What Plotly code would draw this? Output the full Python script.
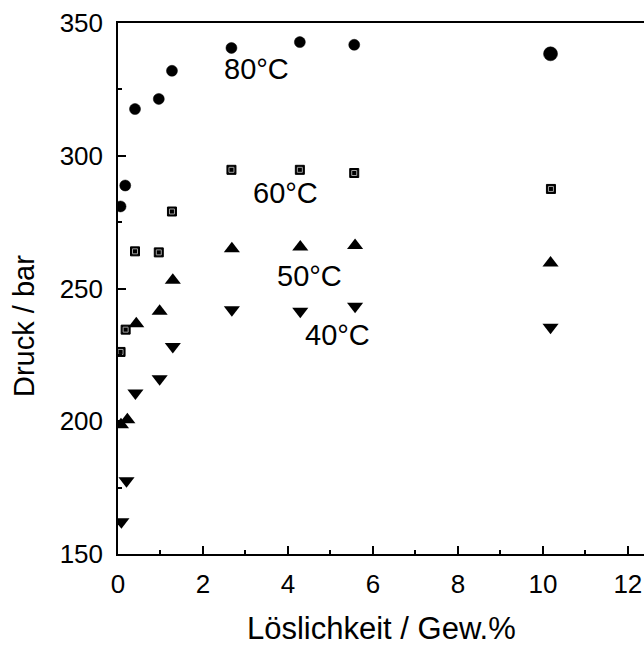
import plotly.graph_objects as go

# 80°C (circles)
x80 = [0.06, 0.17, 0.40, 0.96, 1.27, 2.67, 4.28, 5.56, 10.18]
y80 = [280.9, 288.8, 317.6, 321.4, 332.0, 340.6, 342.8, 341.8, 338.4]
s80 = [11, 11, 11, 11, 11, 11, 11, 11, 14]
# 60°C (squares)
x60 = [0.06, 0.18, 0.40, 0.96, 1.27, 2.67, 4.28, 5.56, 10.19]
y60 = [226.1, 234.5, 264.0, 263.6, 279.0, 294.7, 294.7, 293.5, 287.5]
# 50°C (triangle up)
x50 = [0.07, 0.22, 0.43, 0.98, 1.29, 2.68, 4.29, 5.58, 10.18]
y50 = [198.7, 200.6, 236.7, 241.4, 253.1, 265.0, 265.6, 266.2, 259.6]
# 40°C (triangle down)
x40 = [0.08, 0.20, 0.41, 0.98, 1.29, 2.68, 4.29, 5.58, 10.18]
y40 = [162.1, 177.6, 210.6, 216.0, 228.2, 242.0, 241.4, 243.3, 235.4]

labels = ["80°C", "60°C", "50°C", "40°C"]
label_x = [3.27, 3.95, 4.51, 5.17]
label_y = [332.6, 286.1, 254.8, 232.6]

x_title = "Löslichkeit / Gew.%"
y_title = "Druck / bar"

FONT = "Arial, 'Liberation Sans', sans-serif"

fig = go.Figure()
fig.add_trace(go.Scatter(x=x80, y=y80, mode="markers",
                         marker=dict(symbol="circle", size=s80, color="#000000", opacity=1,
                                     line=dict(color="#000000", width=0.5)),
                         showlegend=False))
fig.add_trace(go.Scatter(x=x60, y=y60, mode="markers",
                         marker=dict(symbol="square", size=9, color="#000000", opacity=1,
                                     line=dict(color="#000000", width=1)),
                         showlegend=False))
fig.add_trace(go.Scatter(x=x60, y=y60, mode="markers",
                         marker=dict(symbol="square-open", size=5, color="#a0a0a0",
                                     line=dict(width=1)),
                         showlegend=False))
fig.add_trace(go.Scatter(x=x50, y=y50, mode="markers",
                         marker=dict(symbol="triangle-up", size=14, color="#000000"),
                         showlegend=False))
fig.add_trace(go.Scatter(x=x40, y=y40, mode="markers",
                         marker=dict(symbol="triangle-down", size=14, color="#000000"),
                         showlegend=False))

for t, lx, ly in zip(labels, label_x, label_y):
    fig.add_annotation(x=lx, y=ly, text=t, showarrow=False,
                       font=dict(family=FONT, size=29, color="black"),
                       xanchor="center", yanchor="middle")

fig.add_annotation(xref="paper", yref="paper", x=0.5, y=-0.14, text=x_title,
                   showarrow=False, xanchor="center", yanchor="middle",
                   font=dict(family=FONT, size=31, color="black"))
fig.add_annotation(xref="paper", yref="paper", x=-0.18, y=0.43, text=y_title,
                   showarrow=False, xanchor="center", yanchor="middle", textangle=-90,
                   font=dict(family=FONT, size=29, color="black"))

fig.update_layout(
    width=644, height=645,
    margin=dict(l=118, r=0, t=23, b=91),
    paper_bgcolor="white", plot_bgcolor="white",
    font=dict(family=FONT, color="black"),
)
fig.update_xaxes(range=[0, 12.38], showgrid=False, zeroline=False,
                 showline=True, linecolor="black", linewidth=1.5, mirror=True,
                 ticks="inside", ticklen=8, tickwidth=1.5, tickcolor="black",
                 tick0=0, dtick=2,
                 minor=dict(ticks="inside", ticklen=4, tickwidth=1.5, tickcolor="black", dtick=1),
                 tickfont=dict(family=FONT, size=26, color="black"),
                 ticklabelstandoff=6)
fig.update_yaxes(range=[150, 350], showgrid=False, zeroline=False,
                 showline=True, linecolor="black", linewidth=1.5, mirror=False,
                 ticks="inside", ticklen=8, tickwidth=1.5, tickcolor="black",
                 tick0=150, dtick=50,
                 minor=dict(ticks="inside", ticklen=4, tickwidth=1.5, tickcolor="black", dtick=25),
                 tickfont=dict(family=FONT, size=26, color="black"),
                 ticklabelstandoff=8)

fig.write_html("out.html")
